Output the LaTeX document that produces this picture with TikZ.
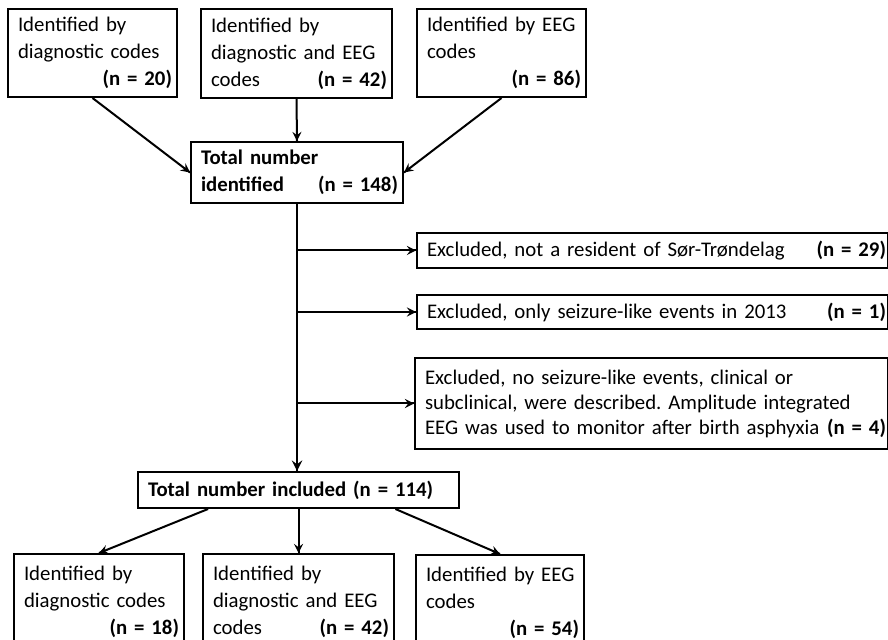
\documentclass[tikz,border=0pt]{standalone}
\usepackage{fontspec}
\setmainfont{Carlito}
\frenchspacing
\tikzset{->/.style = {decoration={markings, mark=at position 1 with {\arrow[scale=1]{stealth}}}, postaction={decorate}}}
\tikzset{box/.style = {draw, line width=1pt, anchor=north west, align=left, inner xsep=2.5pt, inner ysep=0pt, text width=#1, execute at begin node={\leftskip2.5pt}, font=\fontsize{10.4}{13.5}\selectfont}}
\tikzset{exbox/.style = {box=#1, inner xsep=1pt, execute at begin node={\leftskip4pt}, font=\fontsize{10.4}{12.5}\selectfont}}
\usetikzlibrary{calc,
                 decorations.markings}

\begin{document}
\begin{tikzpicture}[x=0.5pt, y=-0.5pt]
    \useasboundingbox (0,0) rectangle (888,640);

    % Identified
    \node [box=79.5pt, minimum height=44pt] (idA) at (7,8) {Identified by\\diagnostic codes\\\mbox{}\hfill\textbf{(n = 20)}};
    \node [box=90.5pt, minimum height=44.5pt] (idB) at (200,8) {Identified by\\diagnostic and EEG\\codes\hfill\textbf{(n = 42)}};
    \node [box=79.5pt, minimum height=44pt] (idC) at (416,8) {Identified by EEG\\codes\\\mbox{}\hfill\textbf{(n = 86)}};
    \node [box=101pt, minimum height=30.5pt] (total) at (190,141) {\bfseries Total number\\identified\hfill(n = 148)};

    % Excluded
    \node [exbox=233.5pt, minimum height=17.5pt] (exA) at (416,232) {Excluded, not a resident of Sør-Trøndelag\hfill\textbf{(n = 29)}};
    \node [exbox=233.5pt, minimum height=17pt] (exB) at (416,294) {Excluded, only seizure-like events in 2013\hfill\textbf{(n = 1)}};
    \node [exbox=234.5pt, minimum height=45.5pt] (exC) at (414,357) {Excluded, no seizure-like events, clinical or\\subclinical, were described. Amplitude integrated\\EEG was used to monitor after birth asphyxia\hfill\textbf{(n = 4)}};

    % Included
    \node [box=155.5pt, minimum height=18pt] (incl) at (137,471) {\bfseries Total number included (n = 114)};
    \node [box=80pt, minimum height=48pt] (inA) at (13,553) {Identified by\\diagnostic codes\\\mbox{}\hfill\textbf{(n = 18)}};
    \node [box=90.5pt, minimum height=48pt] (inB) at (202,553) {Identified by\\diagnostic and EEG\\codes\hfill\textbf{(n = 42)}};
    \node [box=79pt, minimum height=48pt] (inC) at (415,554) {Identified by EEG\\codes\\\mbox{}\hfill\textbf{(n = 54)}};

    \draw [->, line width=1pt] (idA.south) -- (total.west);
    \draw [->, line width=1pt] (idB.south) -- (total.north);
    \draw [->, line width=1pt] (idC.south) -- (total.east);

    \draw [->, line width=1.3pt] (total.south) -- (total.south |- incl.north);
    \draw [->, line width=1pt] (total.south |- exA.west) -- (exA.west);
    \draw [->, line width=1pt] (total.south |- exB.west) -- (exB.west);
    \draw [->, line width=1pt] (total.south |- exC.west) -- (exC.west);

    \draw [->, line width=1pt] ($(incl.south west)!0.22!(incl.south east)$) -- (inA.north);
    \draw [->, line width=1pt] (incl.south) -- (inB.north);
    \draw [->, line width=1pt] ($(incl.south west)!0.8!(incl.south east)$) -- (inC.north);

\end{tikzpicture}
\end{document}
